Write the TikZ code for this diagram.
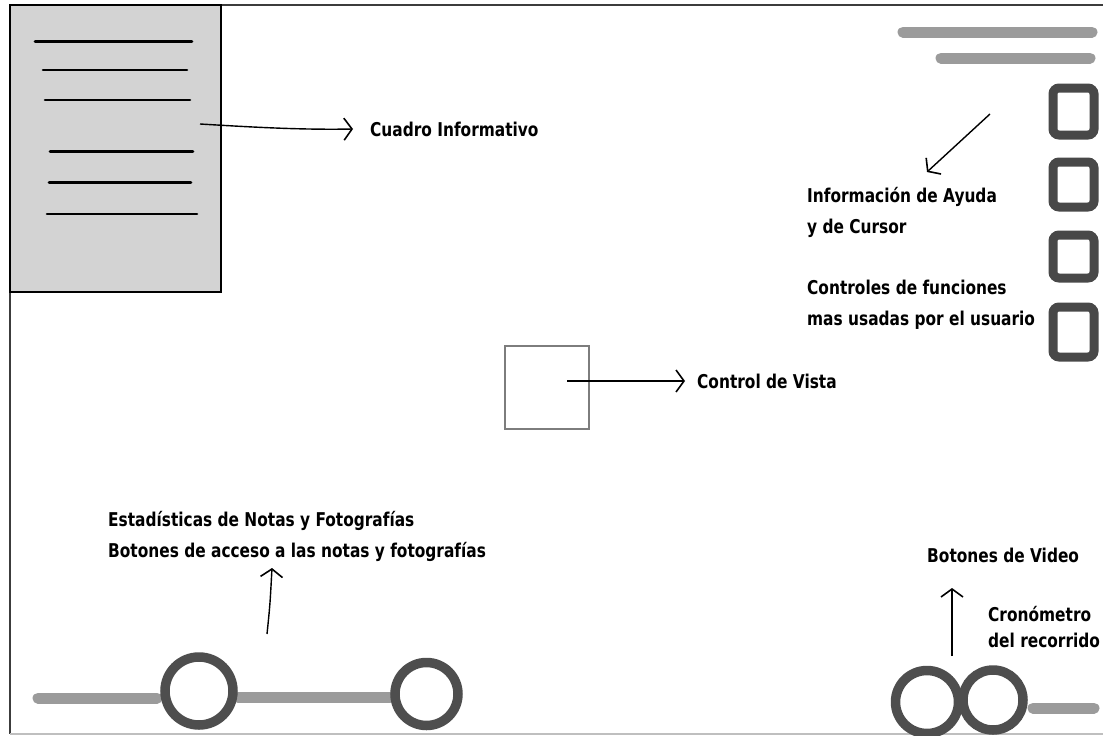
\documentclass[tikz,border=0pt]{standalone}
\usepackage{fontspec}
\setmainfont{DejaVu Sans Condensed}[FakeStretch=0.9]
\usetikzlibrary{arrows.meta}
\definecolor{boxfill}{RGB}{211,211,211}
\definecolor{barc}{RGB}{155,155,155}
\definecolor{ringc}{RGB}{78,78,78}
\definecolor{sqc}{RGB}{72,72,72}
\definecolor{vistac}{RGB}{125,125,125}
\definecolor{framec}{RGB}{60,60,60}
\tikzset{
  lbl/.style={anchor=west, align=left, inner sep=0pt, font=\bfseries\fontsize{19}{31}\selectfont},
  lblnarrow/.style={lbl, font=\bfseries\fontsize{19}{26}\selectfont},
  txtline/.style={line width=2.6pt, line cap=round, black},
  gbar/.style={line width=11pt, barc, line cap=round},
  ring/.style={draw=ringc, line width=9.5pt, circle},
  ctrlsq/.style={draw=sqc, line width=9pt, rounded corners=6pt},
  sketcharrow/.style={line width=1.4pt, black, -{Straight Barb[length=8pt,width=22pt,line width=1.6pt]}}
}
\begin{document}
\begin{tikzpicture}[x=1pt,y=-1pt]
\useasboundingbox (0,0) rectangle (1103,736);
% frame
\draw[framec, line width=2pt] (10,5) -- (1103,5);
\draw[framec, line width=2pt] (10,5) -- (10,734);
\draw[black!25, line width=1.5pt] (10,734) -- (1103,734);
% info box
\node[draw=black, line width=2.5pt, fill=boxfill, minimum width=211pt, minimum height=287pt, inner sep=0pt] (info) at (115.5,148.5) {};
\draw[txtline] (35,41.7) -- (192,41.7);
\draw[txtline] (43,70) -- (187,70);
\draw[txtline] (45,100) -- (190,100);
\draw[txtline] (50,151.7) -- (193,151.7);
\draw[txtline] (49,182.7) -- (191,182.7);
\draw[txtline] (47,214) -- (197,214);
\coordinate (infoout) at (200,124);
\node[lbl] (cuadro) at (370,129) {Cuadro Informativo};
\draw[sketcharrow] (infoout) .. controls (250,127) and (300,130) .. ([xshift=-17pt]cuadro.west);
% top right bars
\draw[gbar] (903,32) -- (1092,32);
\draw[gbar] (941,58) -- (1090,58);
% control squares
\draw[ctrlsq] (1053,88) rectangle (1094,135);
\draw[ctrlsq] (1053,162) rectangle (1094,207);
\draw[ctrlsq] (1053,235) rectangle (1094,278);
\draw[ctrlsq] (1053,307) rectangle (1094,357);
% help text
\coordinate (helpstart) at (990,114);
\node[lbl] (ayuda) at (807,212) {Información de Ayuda\\y de Cursor};
\draw[sketcharrow] (helpstart) -- (927,172);
\node[lbl] (controles) at (807,305) {Controles de funciones\\mas usadas por el usuario};
% control de vista
\node[draw=vistac, line width=2pt, minimum width=84pt, minimum height=83pt, inner sep=0pt] (vista) at (547,387.5) {};
\coordinate (vistaout) at (567,381);
\node[lbl] (vistalbl) at (697,381) {Control de Vista};
\draw[sketcharrow] (vistaout) -- ([xshift=-12pt]vistalbl.west);
% bottom left
\draw[gbar] (38,698) -- (157,698);
\draw[gbar] (238,697) -- (390,697);
\node[ring, minimum size=68pt, inner sep=0pt] (r1) at (199,691) {};
\node[ring, minimum size=63pt, inner sep=0pt] (r2) at (426.5,694) {};
\node[lbl] (stats) at (108,536) {Estadísticas de Notas y Fotografías\\Botones de acceso a las notas y fotografías};
\coordinate (statsfrom) at (267,634);
\draw[sketcharrow] (statsfrom) .. controls (270,605) .. (272,568);
% bottom right
\draw[gbar] (1033,708) -- (1094,708);
\node[ring, minimum size=63pt, inner sep=0pt] (v1) at (927,702) {};
\node[ring, minimum size=60pt, inner sep=0pt] (v2) at (993,700) {};
\node[lbl] (video) at (927,555) {Botones de Video};
\node[lblnarrow] (crono) at (988,627.5) {Cronómetro\\del recorrido};
\draw[sketcharrow] (952,656) -- (952,588);
\end{tikzpicture}
\end{document}
